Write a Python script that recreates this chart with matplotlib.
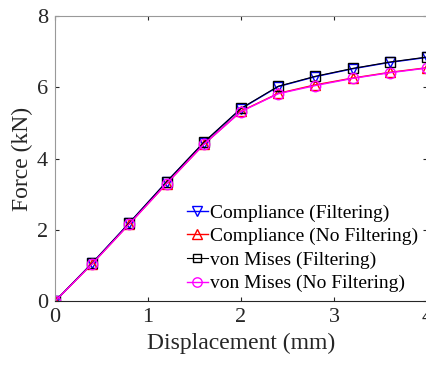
import matplotlib
matplotlib.use("Agg")
import matplotlib.pyplot as plt

# Datos
disp = [0.0, 0.4, 0.8, 1.2, 1.6, 2.0, 2.4, 2.8, 3.2, 3.6, 4.0]
comp_filt = [0.0, 1.07, 2.20, 3.35, 4.45, 5.40, 6.02, 6.30, 6.52, 6.70, 6.84]
comp_nofilt = [0.0, 1.05, 2.17, 3.30, 4.40, 5.33, 5.83, 6.07, 6.26, 6.42, 6.55]
vm_filt = [0.0, 1.07, 2.20, 3.35, 4.46, 5.41, 6.03, 6.31, 6.53, 6.71, 6.85]
vm_nofilt = [0.0, 1.05, 2.17, 3.30, 4.40, 5.32, 5.82, 6.05, 6.25, 6.41, 6.54]

plt.rcParams['font.family'] = ['Liberation Serif', 'DejaVu Serif']

fig = plt.figure(figsize=(4.27, 3.65), dpi=100)
ax = fig.add_axes([0.129, 0.175, 0.871, 0.781])

ms = 7.5
ax.plot(disp, comp_filt, color='blue', marker='v', mfc='none', ms=ms, lw=1.0,
        label='Compliance (Filtering)')
ax.plot(disp, comp_nofilt, color='red', marker='^', mfc='none', ms=ms, lw=1.0,
        label='Compliance (No Filtering)')
ax.plot(disp, vm_filt, color='black', marker='s', mfc='none', ms=6.5, lw=0.8,
        label='von Mises (Filtering)')
ax.plot(disp, vm_nofilt, color='magenta', marker='o', mfc='none', ms=ms, lw=1.0,
        label='von Mises (No Filtering)')

ax.set_xlim(0, 4)
ax.set_ylim(0, 8)
ax.set_xticks([0, 1, 2, 3, 4])
ax.set_yticks([0, 2, 4, 6, 8])
ax.tick_params(direction='in', length=3, labelsize=16, colors='#262626',
               top=True, right=True, pad=5)
for s in ['top', 'left', 'right']:
    ax.spines[s].set_color('#999999')
    ax.spines[s].set_linewidth(0.8)
ax.spines['bottom'].set_color('#262626')
ax.spines['bottom'].set_linewidth(0.8)

ax.set_xlabel('Displacement (mm)', fontsize=17, color='#262626', labelpad=4)
ax.set_ylabel('Force (kN)', fontsize=17, color='#262626', labelpad=3)

ax.legend(loc='lower right', bbox_to_anchor=(1.0, 0.0), frameon=False,
          fontsize=14, handlelength=1.1, handletextpad=0.1,
          labelspacing=0.3, borderaxespad=0.05, markerscale=0.9)

fig.savefig('out.png', dpi=100)
